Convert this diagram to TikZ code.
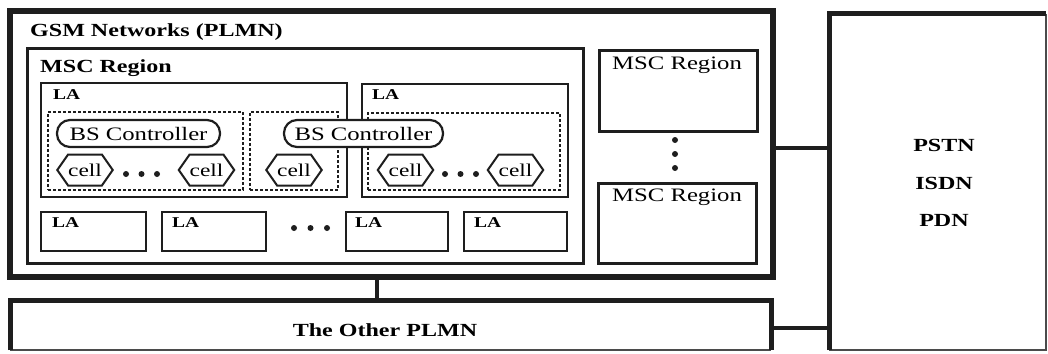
\documentclass[tikz,border=0pt]{standalone}
\usepackage{fontspec}
\setmainfont{Liberation Serif}[FakeStretch=1.3]
\usetikzlibrary{shapes.symbols}
\definecolor{ink}{HTML}{1E1E1E}
\begin{document}
\begin{tikzpicture}[x=1pt,y=-1pt,
  box/.style={draw=ink, anchor=north west, inner sep=0pt, outer sep=0pt},
  thinbox/.style={box, line width=1.5pt},
  dashbox/.style={box, line width=1.3pt, dash pattern=on 3pt off 2pt},
  bigbox/.style={box, line width=6pt},
  medbox/.style={box, line width=3pt},
  bsc/.style={draw=ink, fill=white, line width=2.2pt, rounded corners=13pt, inner sep=0pt,
    minimum height=27pt, font=\fontsize{19}{21}\selectfont},
  cellnode/.style={draw=ink, fill=white, line width=2pt, shape=signal, signal to=west and east,
    signal pointer angle=110, inner sep=0pt, minimum width=54pt, minimum height=31pt,
    font=\fontsize{18}{20}\selectfont},
  dotnode/.style={circle, fill=ink, inner sep=0pt, minimum size=6pt},
  title/.style={anchor=base west, inner sep=0pt, font=\fontsize{18.5}{21}\selectfont\bfseries},
  latext/.style={anchor=base west, inner sep=0pt, font=\fontsize{15}{17}\selectfont\bfseries},
  rtitle/.style={anchor=base west, inner sep=0pt, font=\fontsize{19}{21}\selectfont},
  ctext/.style={inner sep=0pt, font=\fontsize{18.5}{20}\selectfont\bfseries},
  conn/.style={draw=ink, line width=4pt},
  thickedge/.style={draw=ink, line width=5pt},
  thinedge/.style={draw=ink!80, line width=1.5pt},
]
\useasboundingbox (0,0) rectangle (1048,353);
% outer GSM network
\node[bigbox, minimum width=763pt, minimum height=266pt] (gsm) at (10,11) {};
\node[title] (gsmt) at (30,36.5) {GSM Networks (PLMN)};
% left MSC region
\node[medbox, minimum width=556pt, minimum height=214pt] (msc) at (27,49) {};
\node[title] (msct) at (40,72) {MSC Region};
% LA boxes with content
\node[thinbox, minimum width=306pt, minimum height=114pt] (la1) at (41,83) {};
\node[latext] (la1t) at (53,99) {LA};
\node[thinbox, minimum width=206pt, minimum height=113pt] (la2) at (362,84) {};
\node[latext] (la2t) at (372,99) {LA};
% dashed BSC groups
\node[dashbox, minimum width=195pt, minimum height=78pt] (d1) at (48,112) {};
\node[dashbox, minimum width=88pt, minimum height=78pt] (d2) at (250,112) {};
\node[dashbox, minimum width=192pt, minimum height=77pt] (d3) at (368,113) {};
% BS controllers
\node[bsc, minimum width=163pt] (bsc1) at (138.5,133.5) {BS Controller};
\node[bsc, minimum width=159pt] (bsc2) at (363.5,133.5) {BS Controller};
% cells
\node[cellnode] (c1) at (85,170) {cell};
\node[cellnode] (c2) at (206.5,170) {cell};
\node[cellnode] (c3) at (294,170) {cell};
\node[cellnode] (c4) at (405.5,170) {cell};
\node[cellnode] (c5) at (515.5,170) {cell};
\node[dotnode] (p1) at (126,174) {};
\node[dotnode] (p2) at (141.5,174) {};
\node[dotnode] (p3) at (157,174) {};
\node[dotnode] (p4) at (445,174) {};
\node[dotnode] (p5) at (460.5,174) {};
\node[dotnode] (p6) at (476,174) {};
% bottom LA row
\node[thinbox, minimum width=105pt, minimum height=39pt] (la3) at (41,212) {};
\node[latext] (la3t) at (52,227) {LA};
\node[thinbox, minimum width=104pt, minimum height=39pt] (la4) at (162,212) {};
\node[latext] (la4t) at (172,227) {LA};
\node[dotnode] (p7) at (294,228) {};
\node[dotnode] (p8) at (310.5,228) {};
\node[dotnode] (p9) at (327,228) {};
\node[thinbox, minimum width=102pt, minimum height=39pt] (la5) at (346,212) {};
\node[latext] (la5t) at (355,227) {LA};
\node[thinbox, minimum width=103pt, minimum height=39pt] (la6) at (464,212) {};
\node[latext] (la6t) at (474,227) {LA};
% right MSC regions
\node[medbox, minimum width=158pt, minimum height=80pt] (r1) at (599,51) {};
\node[rtitle] (r1t) at (612,69) {MSC Region};
\node[dotnode] (p10) at (675,140) {};
\node[dotnode] (p11) at (675,154) {};
\node[dotnode] (p12) at (675,168) {};
\node[medbox, minimum width=158pt, minimum height=80pt] (r2) at (598,183) {};
\node[rtitle] (r2t) at (612,201) {MSC Region};
% other PLMN (bottom edge cut thin)
\node[box, draw=none, minimum width=761pt, minimum height=50pt] (plmn) at (10,300) {};
\draw[thinedge] (plmn.south west) -- (plmn.south east);
\draw[thickedge] (plmn.south west) -- (plmn.north west) -- (plmn.north east) -- (plmn.south east);
\node[ctext] (plmnt) at (385,330) {The Other PLMN};
% PSTN box (right and bottom edges cut thin)
\node[box, draw=none, minimum width=217pt, minimum height=336pt] (pstn) at (829,14) {};
\draw[thinedge] (pstn.north east) -- (pstn.south east) -- (pstn.south west);
\draw[thickedge] (pstn.south west) -- (pstn.north west) -- (pstn.north east);
\node[ctext] (pstnt) at (944,145) {PSTN};
\node[ctext] (isdnt) at (944,183) {ISDN};
\node[ctext] (pdnt) at (944,220) {PDN};
% connectors
\coordinate (k1) at (800,148);
\coordinate (k2) at (800,328);
\coordinate (k3) at (377,290);
\draw[conn] (gsm.east |- k1) -- (pstn.west |- k1);
\draw[conn] (plmn.east |- k2) -- (pstn.west |- k2);
\draw[conn, line width=3.5pt] (gsm.south -| k3) -- (plmn.north -| k3);
\end{tikzpicture}
\end{document}
